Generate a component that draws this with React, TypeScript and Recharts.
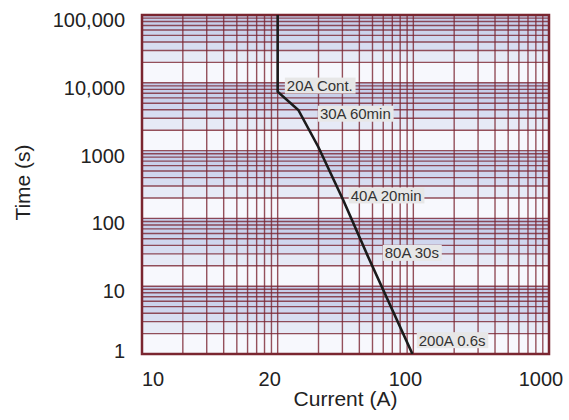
import { CartesianGrid, Line, LineChart, ReferenceArea, ReferenceDot, XAxis, YAxis } from "recharts"

const FONT = "Liberation Sans, Arial, Helvetica, sans-serif"
const GRID = "#7a2632"
const BORDER = "#7a2630"
const INK = "#222"
// one colour per stripe of a decade, top (9–10) to bottom (1–2)
const STRIPES = ["#c5cde9", "#c6cee9", "#c7cfea", "#c9d1eb", "#cbd3ec", "#cfd6ee", "#d7ddf1", "#e6eaf6", "#f7f8fd"]

// axis ticks and the labels printed on them
const CURRENT_TICKS = [1, 10, 100, 1000]
const CURRENT_LABELS = ["10", "20", "100", "1000"]
const TIME_TICKS = [1, 10, 100, 1000, 10000, 100000]
const TIME_LABELS = ["1", "10", "100", "1000", "10,000", "100,000"]

// trip curve
const CURVE_CURRENT = [10, 10, 14.2, 19.9, 30.4, 46.4, 98.5]
const CURVE_TIME = [100000, 7400, 3970, 1140, 187, 27.2, 1]

// annotations (left edge / middle of the tag)
const NOTE_TEXT = ["20A Cont.", "30A 60min", "40A 20min", "80A 30s", "200A 0.6s"]
const NOTE_CURRENT = [11.3, 19.8, 33.4, 59.5, 106]
const NOTE_TIME = [9100, 3500, 218, 31, 1.6]

const MINOR = [1, 2, 3, 4, 5, 6, 7, 8, 9]
const gridTicks = (majors: number[]) =>
  majors.flatMap((m, i) => (i === majors.length - 1 ? [m] : MINOR.map((k) => k * m)))

const curve = CURVE_CURRENT.map((current, i) => ({ current, time: CURVE_TIME[i] }))

const CHAR_W: Record<string, number> = {
  " ": 0.278, ".": 0.278, A: 0.667, C: 0.722, i: 0.222, m: 0.833, t: 0.278, s: 0.5,
}
const textWidth = (s: string, size: number) =>
  s.split("").reduce((w, ch) => w + (CHAR_W[ch] ?? 0.556), 0) * size

function Note({ cx, cy, text }: { cx: number; cy: number; text: string }) {
  const w = textWidth(text, 15) + 4
  return (
    <g>
      <rect x={cx} y={cy - 8} width={w} height={16} fill="#e7e7e7" />
      <text x={cx + 2} y={cy + 5.5} fontSize={15} fontFamily={FONT} fill="#333">
        {text}
      </text>
    </g>
  )
}

function CurrentTick({ x, y, payload }: any) {
  const i = CURRENT_TICKS.indexOf(payload.value)
  if (i < 0) return <g />
  return (
    <text
      x={i === 0 ? x : x - 8}
      y={y + 32}
      textAnchor={i === 0 ? "start" : "middle"}
      fontSize={20}
      fontFamily={FONT}
      fill={INK}
    >
      {CURRENT_LABELS[i]}
    </text>
  )
}

function TimeTick({ x, y, payload }: any) {
  const i = TIME_TICKS.indexOf(payload.value)
  if (i < 0) return <g />
  return (
    <text x={x - 17} y={y + (i === 0 ? 4 : 12)} textAnchor="end" fontSize={20} fontFamily={FONT} fill={INK}>
      {TIME_LABELS[i]}
    </text>
  )
}

const currentTitle = ({ viewBox }: any) => (
  <text
    x={viewBox.x + viewBox.width / 2}
    y={viewBox.y + 52}
    textAnchor="middle"
    fontSize={21}
    fontFamily={FONT}
    fill={INK}
  >
    Current (A)
  </text>
)

const timeTitle = ({ viewBox }: any) => {
  const cx = viewBox.x + 30
  const cy = viewBox.y + viewBox.height / 2 - 2
  return (
    <text
      x={cx}
      y={cy}
      transform={`rotate(-90, ${cx}, ${cy})`}
      textAnchor="middle"
      fontSize={21}
      fontFamily={FONT}
      fill={INK}
    >
      Time (s)
    </text>
  )
}

export default function App() {
  return (
    <div style={{ position: "absolute", left: 0, top: 0 }}>
      <LineChart width={569} height={420} data={curve} margin={{ top: 15, right: 20, bottom: 0, left: 0 }}>
        <CartesianGrid stroke={GRID} strokeWidth={1.4} strokeOpacity={0.8} horizontalFill={STRIPES} />
        <XAxis
          dataKey="current"
          type="number"
          scale="log"
          domain={[1, 1000]}
          ticks={gridTicks(CURRENT_TICKS)}
          interval={0}
          allowDataOverflow
          axisLine={false}
          tickLine={false}
          tickSize={0}
          tickMargin={0}
          height={66}
          tick={CurrentTick}
          label={currentTitle}
        />
        <YAxis
          type="number"
          scale="log"
          domain={[1, 100000]}
          ticks={gridTicks(TIME_TICKS)}
          interval={0}
          allowDataOverflow
          axisLine={false}
          tickLine={false}
          tickSize={0}
          tickMargin={0}
          width={142}
          tick={TimeTick}
          label={timeTitle}
        />
        <ReferenceArea
          x1={1}
          x2={1000}
          y1={1}
          y2={100000}
          fill="none"
          stroke={BORDER}
          strokeWidth={2.5}
          ifOverflow="visible"
        />
        <Line
          dataKey="time"
          type="linear"
          stroke="#1b1b1b"
          strokeWidth={2.6}
          dot={false}
          isAnimationActive={false}
        />
        {NOTE_TEXT.map((text, i) => (
          <ReferenceDot
            key={text}
            x={NOTE_CURRENT[i]}
            y={NOTE_TIME[i]}
            r={0}
            ifOverflow="visible"
            shape={(p: any) => <Note cx={p.cx} cy={p.cy} text={text} />}
          />
        ))}
      </LineChart>
    </div>
  )
}
